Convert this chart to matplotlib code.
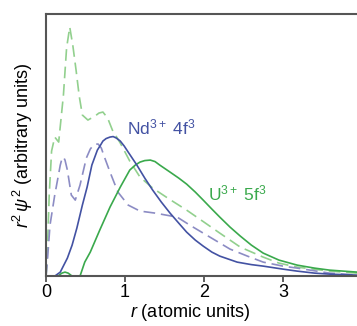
import numpy as np
import matplotlib.pyplot as plt

plt.rcParams['font.family'] = ['Liberation Sans', 'DejaVu Sans']
plt.rcParams['mathtext.fontset'] = 'custom'
plt.rcParams['mathtext.rm'] = 'Liberation Sans'
plt.rcParams['mathtext.it'] = 'Liberation Sans:italic'

# radial densities (arbitrary units)
r_nd = [0, 0.11, 0.18, 0.27, 0.33, 0.39, 0.46, 0.52, 0.58, 0.65, 0.69, 0.72, 0.76, 0.81,
        0.85, 0.89, 0.94, 0.99, 1.04, 1.15, 1.25, 1.35, 1.46, 1.57, 1.68, 1.78, 1.89,
        1.99, 2.10, 2.20, 2.42, 2.60, 2.75, 3.0, 3.18, 3.4, 3.59, 3.94, 4.2]
nd_rel = [0, 0, 0.04, 0.18, 0.31, 0.48, 0.71, 0.89, 1.11, 1.26, 1.31, 1.35, 1.375, 1.39,
          1.395, 1.38, 1.35, 1.30, 1.24, 1.11, 0.98, 0.86, 0.74, 0.63, 0.53, 0.44, 0.36,
          0.30, 0.24, 0.20, 0.14, 0.115, 0.10, 0.07, 0.05, 0.03, 0.02, 0.01, 0.0]

r_nd_d = [0, 0.013, 0.05, 0.11, 0.15, 0.18, 0.20, 0.22, 0.24, 0.27, 0.32, 0.37, 0.43, 0.51,
          0.56, 0.59, 0.63, 0.66, 0.70, 0.73, 0.81, 0.91, 1.04, 1.19, 1.38, 1.66, 1.82,
          1.99, 2.16, 2.33, 2.55, 2.75, 3.0, 3.18, 3.59, 3.94, 4.2]
nd_dash = [0, 0.11, 0.51, 0.81, 0.98, 1.11, 1.17, 1.19, 1.16, 1.06, 0.81, 0.76, 0.91, 1.18,
           1.27, 1.30, 1.32, 1.32, 1.28, 1.21, 1.04, 0.84, 0.71, 0.65, 0.63, 0.59, 0.51,
           0.43, 0.35, 0.27, 0.20, 0.14, 0.10, 0.08, 0.03, 0.01, 0.0]

r_u = [0, 0.15, 0.20, 0.24, 0.28, 0.33, 0.43, 0.49, 0.56, 0.68, 0.81, 0.94, 1.06, 1.13,
       1.19, 1.25, 1.32, 1.38, 1.44, 1.57, 1.68, 1.78, 1.89, 1.99, 2.10, 2.20, 2.33,
       2.46, 2.60, 2.75, 2.95, 3.18, 3.40, 3.59, 3.94, 4.2]
u_rel = [0, 0, 0.03, 0.04, 0.03, 0, 0, 0.14, 0.24, 0.46, 0.69, 0.89, 1.06, 1.11,
         1.14, 1.155, 1.16, 1.145, 1.11, 1.04, 0.98, 0.92, 0.84, 0.76, 0.67, 0.59, 0.49,
         0.40, 0.31, 0.23, 0.16, 0.11, 0.08, 0.06, 0.04, 0.03]

r_u_d = [0, 0.013, 0.04, 0.07, 0.11, 0.16, 0.22, 0.26, 0.30, 0.34, 0.38, 0.42, 0.46,
         0.53, 0.62, 0.67, 0.72, 0.78, 0.84, 0.94, 1.06, 1.19, 1.35, 1.56, 1.78, 2.0,
         2.20, 2.46, 2.75, 2.95, 3.18, 3.59, 3.94, 4.2]
u_dash = [0, 0.16, 0.81, 1.25, 1.39, 1.34, 1.81, 2.28, 2.49, 2.30, 2.06, 1.80, 1.61,
          1.56, 1.60, 1.63, 1.64, 1.58, 1.46, 1.33, 1.15, 0.99, 0.88, 0.77, 0.66, 0.54,
          0.43, 0.29, 0.19, 0.13, 0.09, 0.05, 0.03, 0.02]

blue = '#4352a3'
blue_d = '#8c8cc4'
green = '#3aa94c'
green_d = '#92d08e'

fig = plt.figure(figsize=(3.57, 3.26), dpi=100)
ax = fig.add_axes([0.129, 0.153, 0.929, 0.804])

ax.plot(r_u_d, u_dash, color=green_d, lw=1.2, dashes=(7, 3.5))
ax.plot(r_nd_d, nd_dash, color=blue_d, lw=1.2, dashes=(7, 3.5))
ax.plot(r_u, u_rel, color=green, lw=1.2)
ax.plot(r_nd, nd_rel, color=blue, lw=1.2)

ax.text(1.03, 1.42, r'Nd$^{3+}$ 4f$^3$', color=blue, fontsize=12.5)
ax.text(2.05, 0.76, r'U$^{3+}$ 5f$^3$', color=green, fontsize=12.5)

ax.set_xlim(0, 4.2)
ax.set_ylim(0, 2.62)
ax.set_xticks([0, 1, 2, 3, 4])
ax.set_yticks([])
ax.tick_params(axis='x', direction='out', length=4, width=1.2, color='#444444',
               labelsize=13, pad=2)
for s in ax.spines.values():
    s.set_color('#555555')
    s.set_linewidth(1.5)

ax.set_xlabel(r'$r$ (atomic units)', fontsize=13, labelpad=0)
ax.xaxis.set_label_coords((190 - 46) / 332, -0.1)
ax.set_ylabel(r'$r^2\,\psi^2$ (arbitrary units)', fontsize=13, labelpad=8)

fig.savefig('out.png', dpi=100)
